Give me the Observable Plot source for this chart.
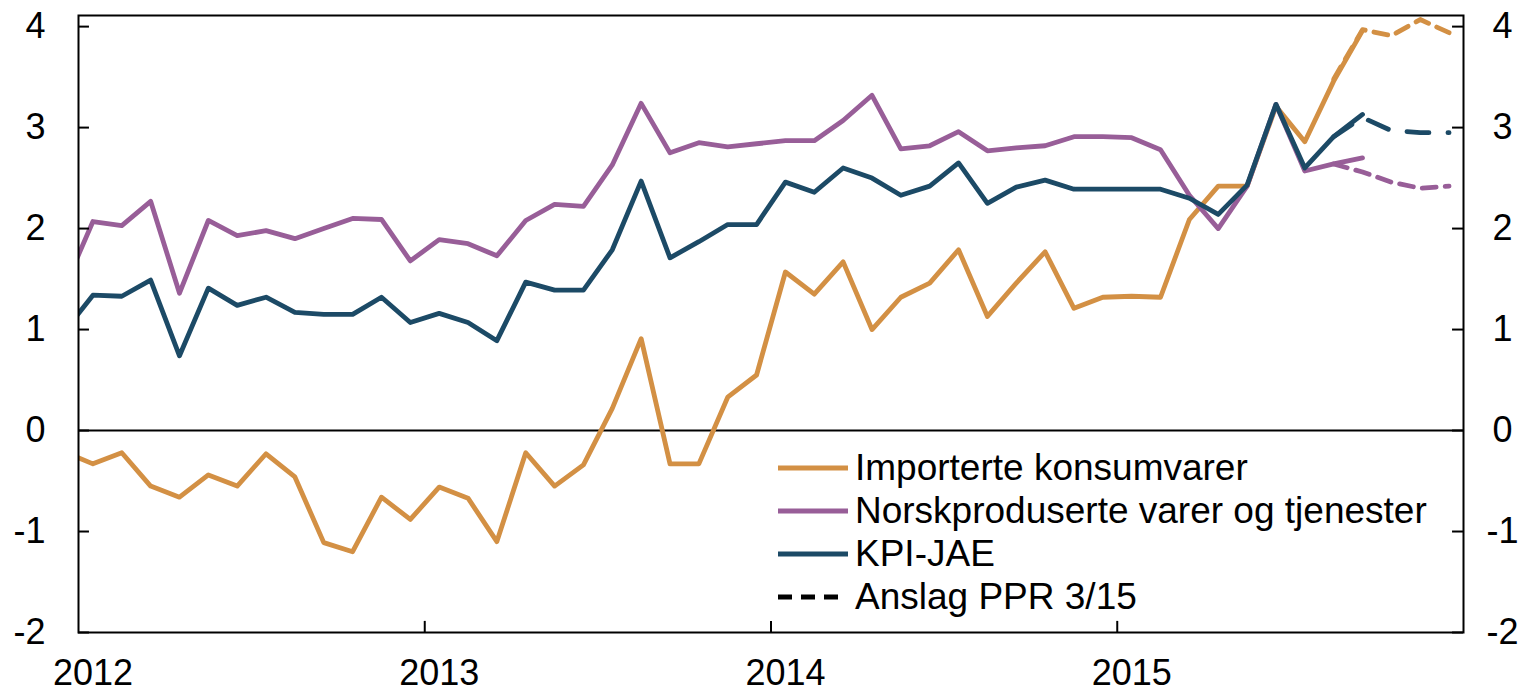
<!DOCTYPE html>
<html>
<head>
<meta charset="utf-8">
<script src="https://cdn.jsdelivr.net/npm/d3@7"></script>
<script src="https://cdn.jsdelivr.net/npm/@observablehq/plot@0.6"></script>
<style>
  html, body { margin: 0; padding: 0; background: #fff; }
  #wrap { position: relative; width: 1533px; height: 693px; font-family: "Liberation Sans", Arial, sans-serif; }
  #legend { position: absolute; left: 778px; top: 446px; }
  .row { display: flex; align-items: center; height: 43px; }
  .row span { font-size: 37px; color: #000; margin-left: 7px; line-height: 1; }
</style>
</head>
<body>
<div id="wrap"></div>
<script>
// Month index: 0 = Jan 2012 (-1 = Dec 2011, clipped at the left edge)
const actualStart = -1;
const importerte = [-0.21, -0.33, -0.22, -0.55, -0.66, -0.44, -0.55, -0.23, -0.46, -1.11, -1.20, -0.66, -0.88,
  -0.56, -0.67, -1.10, -0.22, -0.55, -0.34, 0.22, 0.91, -0.33, -0.33, 0.33, 0.55,
  1.57, 1.35, 1.67, 1.00, 1.32, 1.46, 1.79, 1.13, 1.46, 1.77, 1.21, 1.32,
  1.33, 1.32, 2.09, 2.42, 2.42, 3.21, 2.86, 3.46, 3.96];
const norsk = [1.41, 2.07, 2.03, 2.27, 1.36, 2.08, 1.93, 1.98, 1.90, 2.00, 2.10, 2.09, 1.68,
  1.89, 1.85, 1.73, 2.08, 2.24, 2.22, 2.63, 3.24, 2.75, 2.85, 2.81, 2.84,
  2.87, 2.87, 3.07, 3.32, 2.79, 2.82, 2.96, 2.77, 2.80, 2.82, 2.91, 2.91,
  2.90, 2.78, 2.33, 2.00, 2.42, 3.23, 2.57, 2.64, 2.70];
const kpiJae = [0.98, 1.34, 1.33, 1.49, 0.74, 1.41, 1.24, 1.32, 1.17, 1.15, 1.15, 1.32, 1.07,
  1.16, 1.07, 0.89, 1.47, 1.39, 1.39, 1.79, 2.47, 1.71, 1.87, 2.04, 2.04,
  2.46, 2.36, 2.60, 2.50, 2.33, 2.42, 2.65, 2.25, 2.41, 2.48, 2.39, 2.39,
  2.39, 2.39, 2.30, 2.14, 2.43, 3.23, 2.60, 2.91, 3.13];
// Forecasts (Anslag PPR 3/15), Aug–Dec 2015
const forecastStart = 43;
const importerteF = [3.48, 3.97, 3.91, 4.07, 3.94];
const norskF = [2.64, 2.56, 2.46, 2.40, 2.42];
const kpiJaeF = [2.91, 3.10, 2.97, 2.95, 2.95];

const yearLabels = ["2012", "2013", "2014", "2015"];
const yearLabelPos = [0, 12, 24, 36];
const yearTickPos = [11.5, 23.5, 35.5];
const yTicks = [-2, -1, 0, 1, 2, 3, 4];

const colors = { imp: "#d39044", nor: "#985e98", kpi: "#1c4a66" };
const legendItems = [
  { label: "Importerte konsumvarer", color: colors.imp, dash: null },
  { label: "Norskproduserte varer og tjenester", color: colors.nor, dash: null },
  { label: "KPI-JAE", color: colors.kpi, dash: null },
  { label: "Anslag PPR 3/15", color: "#000", dash: "14,9" }
];

const toRows = (arr, start) => arr.map((v, i) => ({ k: start + i, v }));
const xMin = -0.5, xMax = 47.5;
const fmt = d => String(d);
const lw = 4.8;

const plot = Plot.plot({
  width: 1533,
  height: 693,
  marginLeft: 78,
  marginRight: 70,
  marginTop: 15,
  marginBottom: 61,
  style: { fontFamily: "'Liberation Sans', Arial, sans-serif", fontSize: "36px", color: "#000", background: "#fff", overflow: "visible" },
  x: { domain: [xMin, xMax] },
  y: { domain: [-2, 4.11] },
  marks: [
    Plot.ruleY([0], { stroke: "#000", strokeWidth: 2 }),
    Plot.line(toRows(importerte, actualStart), { x: "k", y: "v", stroke: colors.imp, strokeWidth: lw, clip: true }),
    Plot.line(toRows(norsk, actualStart), { x: "k", y: "v", stroke: colors.nor, strokeWidth: lw, clip: true }),
    Plot.line(toRows(kpiJae, actualStart), { x: "k", y: "v", stroke: colors.kpi, strokeWidth: lw, clip: true }),
    Plot.line(toRows(importerteF, forecastStart), { x: "k", y: "v", stroke: colors.imp, strokeWidth: lw, strokeDasharray: "14,9" }),
    Plot.line(toRows(norskF, forecastStart), { x: "k", y: "v", stroke: colors.nor, strokeWidth: lw, strokeDasharray: "14,9" }),
    Plot.line(toRows(kpiJaeF, forecastStart), { x: "k", y: "v", stroke: colors.kpi, strokeWidth: lw, strokeDasharray: "22,19" }),
    Plot.frame({ stroke: "#000", strokeWidth: 2 }),
    // inward ticks
    Plot.ruleY(yTicks, { y: d => d, x1: xMin, x2: xMin + 0.38, stroke: "#000", strokeWidth: 2 }),
    Plot.ruleY(yTicks, { y: d => d, x1: xMax - 0.38, x2: xMax, stroke: "#000", strokeWidth: 2 }),
    Plot.ruleX(yearTickPos, { x: d => d, y1: -2, y2: -2 + 0.11, stroke: "#000", strokeWidth: 2 }),
    Plot.axisY(yTicks, { anchor: "left", tickSize: 0, tickPadding: 33, tickFormat: fmt, label: null }),
    Plot.axisY(yTicks, { anchor: "right", tickSize: 0, tickPadding: 39, textAnchor: "middle", tickFormat: fmt, label: null }),
    Plot.axisX(yearLabelPos, { anchor: "bottom", tickSize: 0, tickPadding: 27, tickFormat: (d, i) => yearLabels[yearLabelPos.indexOf(d)], label: null })
  ]
});

const wrap = document.getElementById("wrap");
wrap.appendChild(plot);

const legend = document.createElement("div");
legend.id = "legend";
for (const item of legendItems) {
  const row = document.createElement("div");
  row.className = "row";
  const ns = "http://www.w3.org/2000/svg";
  const svg = document.createElementNS(ns, "svg");
  svg.setAttribute("width", "70");
  svg.setAttribute("height", "10");
  const line = document.createElementNS(ns, "line");
  line.setAttribute("x1", "0");
  line.setAttribute("x2", item.dash ? "60" : "70");
  line.setAttribute("y1", "5");
  line.setAttribute("y2", "5");
  line.setAttribute("stroke", item.color);
  line.setAttribute("stroke-width", "4.8");
  if (item.dash) line.setAttribute("stroke-dasharray", item.dash);
  svg.appendChild(line);
  const span = document.createElement("span");
  span.textContent = item.label;
  row.appendChild(svg);
  row.appendChild(span);
  legend.appendChild(row);
}
wrap.appendChild(legend);
</script>
</body>
</html>
